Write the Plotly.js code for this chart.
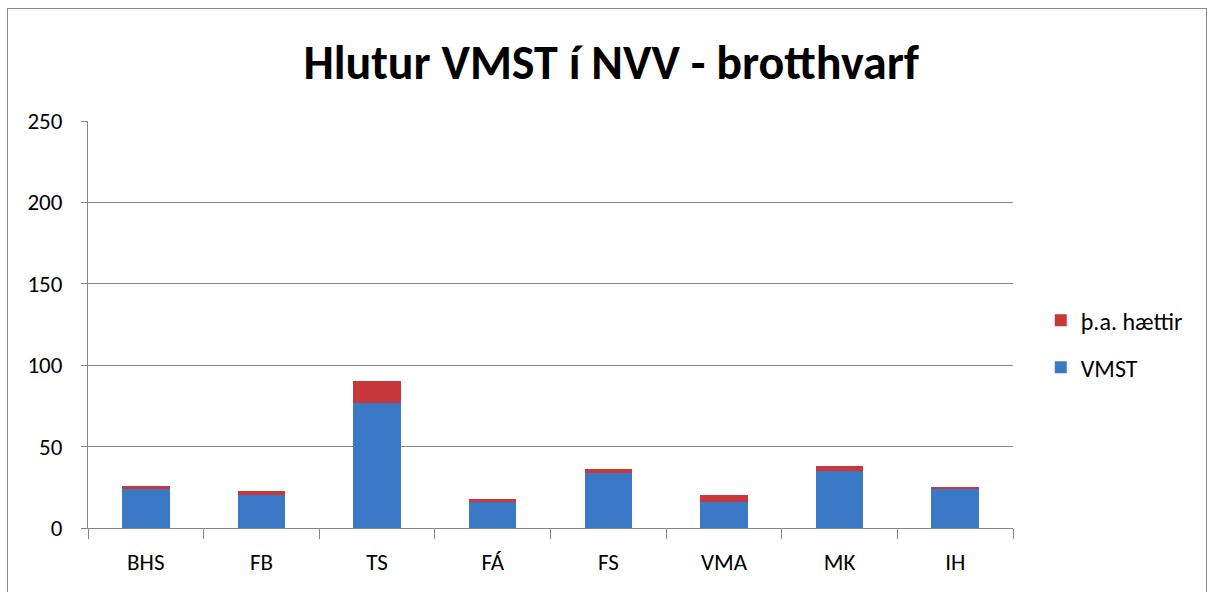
<!DOCTYPE html>
<html>
<head>
<meta charset="utf-8">
<script src="https://cdn.plot.ly/plotly-3.0.1.min.js"></script>
<style>
body{margin:0;padding:0;background:#fff;}
#frame{position:absolute;left:7px;top:8px;width:1200px;height:590px;border:1px solid #8c8c8c;box-sizing:border-box;pointer-events:none;}
#chart{position:absolute;left:0;top:0;width:1215px;height:592px;}
</style>
</head>
<body>
<div id="chart"></div>
<div id="frame"></div>
<script>
var categories = ["BHS","FB","TS","FÁ","FS","VMA","MK","IH"];
var vmst = [24, 20, 77, 16, 34, 16, 35, 24];
var haettir = [2, 3, 13, 2, 2, 4, 3, 1];
var yTicks = [0, 50, 100, 150, 200, 250];

var font = "Carlito, Lato, 'Liberation Sans', sans-serif";

var traces = [
  {type:"bar", name:"VMST", x:categories, y:vmst, legendgroup:"v", legendrank:2,
   marker:{color:"#3A79C6", line:{width:0}}},
  {type:"bar", name:"þ.a. hættir", x:categories, y:haettir, legendgroup:"h", legendrank:1,
   marker:{color:"#C8383A", line:{width:0}}}
];

var layout = {
  width:1215, height:592,
  margin:{l:88, r:202, t:121, b:64},
  barmode:"stack",
  bargap:0.59,
  paper_bgcolor:"rgba(0,0,0,0)",
  plot_bgcolor:"#fff",
  font:{family:font, size:23, color:"#000"},
  title:{text:"<b>Hlutur VMST í NVV - brotthvarf</b>", font:{family:font, size:48, color:"#000"},
         x:0.503, xanchor:"center", y:0.895, yanchor:"middle"},
  xaxis:{type:"category", showgrid:false, showline:true, linecolor:"#878787", linewidth:1,
         ticks:"outside", tickson:"boundaries", ticklen:10, tickcolor:"#878787",
         ticklabelstandoff:13,
         tickfont:{family:font, size:23}, fixedrange:true},
  yaxis:{range:[0,250], tickvals:yTicks, ticktext:yTicks.map(String),
         showgrid:true, gridcolor:"#878787", gridwidth:1, zeroline:false,
         showline:true, linecolor:"#878787", linewidth:1,
         ticks:"outside", ticklen:6, tickcolor:"#878787",
         ticklabelstandoff:14,
         tickfont:{family:font, size:23}, fixedrange:true},
  legend:{x:1.03, xanchor:"left", y:0.452, yanchor:"middle", traceorder:"grouped",
          font:{family:font, size:24}, itemwidth:20, tracegroupgap:13,
          bgcolor:"rgba(0,0,0,0)"},
  showlegend:true
};

Plotly.newPlot("chart", traces, layout, {displayModeBar:false, staticPlot:true});
</script>
</body>
</html>
